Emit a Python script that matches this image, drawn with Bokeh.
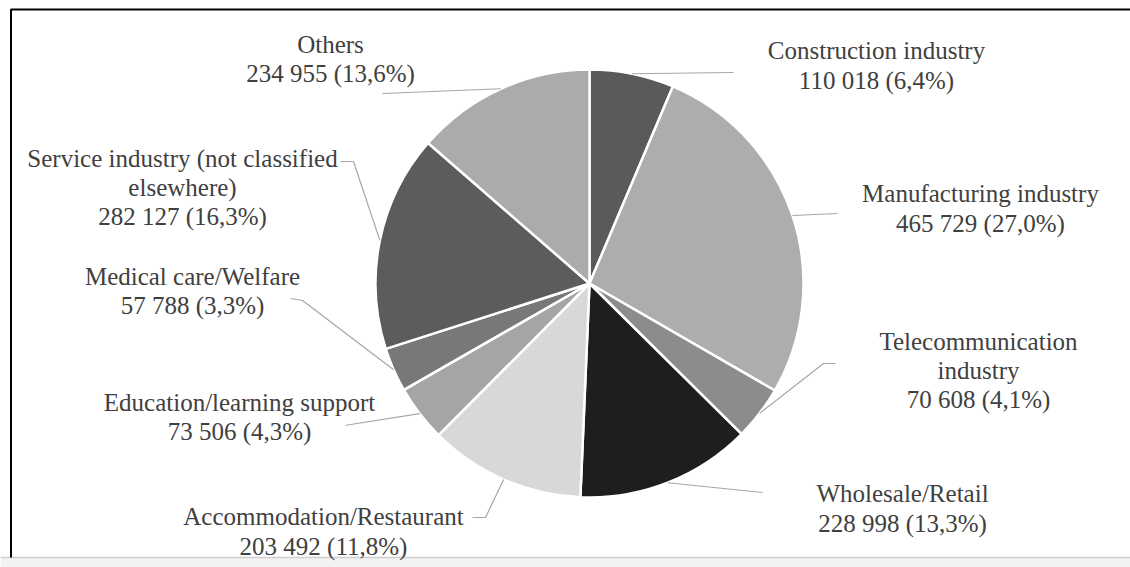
import numpy as np
from bokeh.plotting import figure
from bokeh.models import ColumnDataSource, Range1d
from bokeh.core.properties import value
from bokeh.embed import file_html
from bokeh.resources import INLINE

# ---- data ----
categories = ["Construction industry", "Manufacturing industry", "Telecommunication\nindustry",
              "Wholesale/Retail", "Accommodation/Restaurant", "Education/learning support",
              "Medical care/Welfare", "Service industry (not classified\nelsewhere)", "Others"]
counts = [110018, 465729, 70608, 228998, 203492, 73506, 57788, 282127, 234955]
shares = ["6,4%", "27,0%", "4,1%", "13,3%", "11,8%", "4,3%", "3,3%", "16,3%", "13,6%"]
colors = ["#5a5a5a", "#adadad", "#8c8c8c", "#1e1e1e", "#d8d8d8", "#a5a5a5", "#787878", "#5c5c5c", "#ababab"]

# ---- layout (pixel coordinates, y measured from top) ----
W, H = 1130, 567
CX, CY, R = 589, 283, 214
label_x = [876, 980, 978, 902, 323, 239, 192, 182, 330]
label_y = [65, 208, 370, 508, 531, 416.5, 290.5, 187, 58.5]
elbow = [(733, 72), (837, 213), (823, 363), (762, 492), (485, 517), (350, 424), (302, 300), (353, 161), (382, 93)]
tail = [(733, 72), (837, 213), (835, 363), (762, 492), (472, 517), (345, 425), (290, 298), (340, 161), (382, 93)]

def fy(y):
    return H - y

vals = np.array(counts, dtype=float)
frac = vals / vals.sum()
cum_end = np.cumsum(frac)
cum_start = cum_end - frac
start_angle = np.pi / 2 - 2 * np.pi * cum_end
end_angle = np.pi / 2 - 2 * np.pi * cum_start
mid = np.pi / 2 - 2 * np.pi * (cum_start + cum_end) / 2

def fmt(n):
    return f"{n:,}".replace(",", " ")

labels = [f"{c}\n{fmt(n)} ({s})" for c, n, s in zip(categories, counts, shares)]

p = figure(width=W, height=H, x_range=Range1d(0, W), y_range=Range1d(0, H),
           output_backend="svg", toolbar_location=None, min_border=0,
           x_axis_location=None, y_axis_location=None)
p.grid.visible = False
p.outline_line_color = None
p.background_fill_color = "white"
p.border_fill_color = "white"

# bottom strip and border
p.quad(left=[0], right=[W], bottom=[0], top=[fy(557)], fill_color="#f2f2f2", line_color=None)
p.line(x=[0, W], y=[fy(557), fy(557)], line_color="#cfcfcf", line_width=1.5)
p.line(x=[10.5, 10.5, W], y=[fy(557), fy(9), fy(9)], line_color="black", line_width=2)

src = ColumnDataSource(dict(start=start_angle, end=end_angle, color=colors))
p.wedge(x=CX, y=fy(CY), radius=R, radius_units="screen", start_angle="start", end_angle="end",
        fill_color="color", line_color="white", line_width=2.5, source=src)

# leader lines
xs, ys = [], []
for i in range(len(counts)):
    ex = CX + R * np.cos(mid[i])
    ey = fy(CY) + R * np.sin(mid[i])
    xs.append([ex, elbow[i][0], tail[i][0]])
    ys.append([ey, fy(elbow[i][1]), fy(tail[i][1])])
p.multi_line(xs=xs, ys=ys, line_color="#a6a6a6", line_width=1.2)

tsrc = ColumnDataSource(dict(x=label_x, y=[fy(v) for v in label_y], text=labels))
p.text(x="x", y="y", text="text", source=tsrc, text_align="center", text_baseline="middle",
       text_font=value("Liberation Serif"), text_font_size="25px", text_color="#404040",
       text_line_height=1.08)

open("out.html", "w").write(file_html(p, INLINE))
